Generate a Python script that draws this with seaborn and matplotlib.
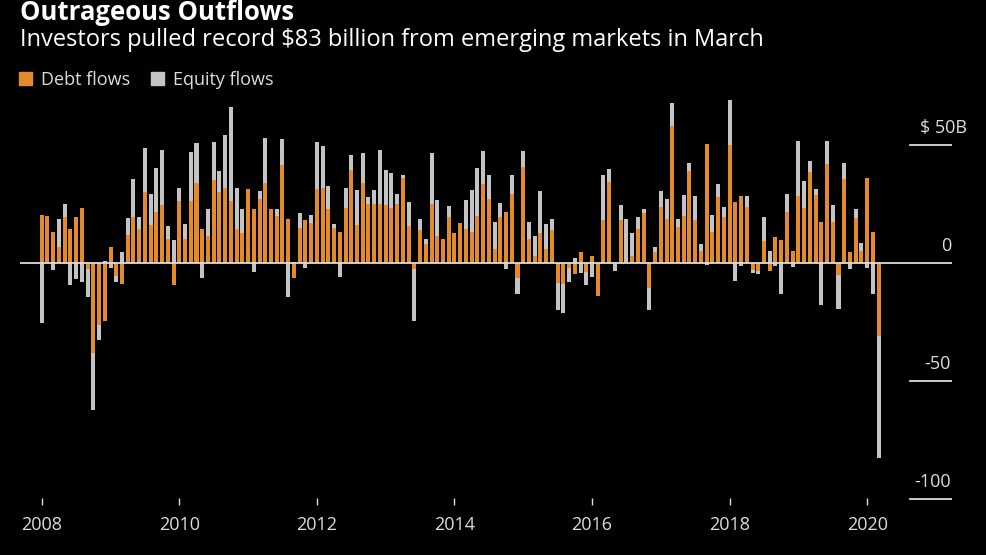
import matplotlib
matplotlib.use("Agg")
from matplotlib import pyplot as plt
from matplotlib.patches import Patch
import seaborn as sns
import pandas as pd
import numpy as np

# monthly flows, Jan 2008 .. Mar 2020, $ billions
debt = [20.3, 19.8, 13.3, 6.9, 19.6, 14.3, 19.4, 23.2, -2.5, -37.9, -26.3, -24.6,
        6.9, -5.5, -8.8, 11.9, 19.4, 14.3, 30.2, 16.1, 21.8, 24.6, 10.2, -9.3,
        26.3, 10.2, 26.3, 34.0, 14.3, 11.6, 35.2, 30.2, 31.6, 26.3, 14.3, 12.6,
        31.2, 22.7, 27.3, 34.0, 22.7, 20.1, 41.5, 18.6, -6.5, 14.7, 18.2, 17.1,
        31.4, 31.9, 22.9, 15.0, 13.3, 23.4, 39.3, 16.1, 34.0, 25.1, 25.1, 25.1,
        24.6, 23.4, 25.1, 35.9, 15.7, -2.5, 13.8, 7.9, 25.1, 11.4, 10.2, 19.5,
        12.6, 17.1, 14.3, 13.3, 20.1, 33.5, 27.1, 5.9, 19.5, 21.5, 29.1, -6.2,
        40.7, 10.2, 2.8, 12.9, 5.9, 14.0, -8.6, -9.0, -2.0, -4.8, 4.5, -3.7,
        2.8, -13.8, 18.2, 34.2, 0.3, 18.2, 0.6, 3.0, 14.4, 21.0, -10.7, 4.8,
        23.9, 18.8, 58.0, 15.4, 20.1, 39.1, 18.2, 5.2, 50.3, 13.3, 28.1, 19.4,
        49.9, 26.0, 28.4, 23.9, -3.0, -3.2, 9.3, -3.2, 10.9, 9.7, 21.8, 5.2,
        28.4, 23.4, 38.4, 28.8, 17.5, 41.8, 17.5, -5.1, 35.6, 4.8, 18.9, 5.2,
        36.2, 13.1, -30.9]
equity = [-25.6, 0.0, -3.0, 11.7, 5.3, -9.3, -6.9, -8.2, -11.9, -24.2, -6.1, 1.0,
          -2.0, -2.7, 4.7, 7.3, 16.1, 5.4, 18.4, 13.3, 18.4, 23.3, 5.6, 9.6,
          5.4, 6.2, 20.6, 16.7, -6.5, 11.2, 16.1, 8.6, 22.5, 39.7, 17.4, 10.2,
          0.0, -3.7, 3.1, 19.1, 0.0, 2.8, 11.0, -14.4, 0.5, 6.4, -2.0, 3.2,
          19.9, 17.7, 9.9, 1.4, -6.1, 8.2, 6.4, 15.0, 12.7, 3.0, 5.9, 22.7,
          14.8, 14.8, 4.2, 1.4, 10.3, -21.9, 4.9, 2.3, 21.6, 15.1, 0.0, 4.8,
          0.0, 0.0, 12.3, 17.8, 20.1, 13.8, 10.2, 11.6, 5.9, -2.5, 8.2, -7.1,
          6.6, 7.3, 8.6, 17.6, 10.5, 4.7, -11.3, -12.0, -6.2, 2.0, -4.4, -5.6,
          -6.1, 0.0, 19.1, 5.5, -3.2, 6.6, 18.2, 9.6, 4.9, 1.7, -9.2, 2.1,
          6.6, 8.5, 9.6, 3.4, 8.8, 3.1, 10.0, 2.8, -0.8, 7.1, 5.2, 4.5,
          22.7, -7.6, -1.3, 4.5, -1.4, -1.6, 10.0, 5.2, -1.3, -13.3, 7.5, -1.6,
          23.4, 11.4, 4.9, 2.4, -17.9, 10.0, 7.3, -14.4, 6.6, -2.7, 3.8, 3.4,
          -2.1, -13.3, -51.8]
years = ["2008", "2010", "2012", "2014", "2016", "2018", "2020"]
y_ticks = [50, 0, -50, -100]
y_labels = ["$ 50B", "0", "-50", "-100"]

ORANGE = "#E38B2C"
GREY = "#C4C4C4"
TXT = "#DCDCDC"

df = pd.DataFrame({"month": np.arange(len(debt)), "debt": debt, "equity": equity})
# equity sits on top of debt when both point the same way, otherwise starts at zero
same = np.sign(df["debt"]) == np.sign(df["equity"])
df["equity_top"] = np.where(same, df["debt"] + df["equity"], df["equity"])

plt.rcParams["font.family"] = ["Open Sans", "DejaVu Sans"]

fig = plt.figure(figsize=(9.87, 5.55), dpi=100, facecolor="black")
ax = fig.add_axes([20 / 987, 1 - 505 / 555, 932 / 987, 405 / 555])
ax.set_facecolor("black")

sns.barplot(data=df, x="month", y="equity_top", color=GREY, saturation=1,
            width=0.7, linewidth=0, errorbar=None, ax=ax)
sns.barplot(data=df, x="month", y="debt", color=ORANGE, saturation=1,
            width=0.7, linewidth=0, errorbar=None, ax=ax)

ax.set_xlim(-3.79, 158.8)
ax.set_ylim(-102.5, 69.07)
for s in ax.spines.values():
    s.set_visible(False)
ax.set_xlabel("")
ax.set_ylabel("")

ax.set_xticks([24 * k for k in range(len(years))])
ax.set_xticklabels(years, fontsize=13, color=TXT)
ax.tick_params(axis="x", direction="in", length=5, width=1, color=TXT, pad=8)
ax.set_yticks([])

ax.axhline(0, color=TXT, lw=1.3, zorder=5)
for v, lab in zip(y_ticks, y_labels):
    if v != 0:
        ax.axhline(v, xmin=(910 - 20) / 932, xmax=1, color=TXT, lw=1.3)
    dx = 10.8 if lab.endswith("B") else -0.7
    ax.annotate(lab, xy=(1, v), xycoords=ax.get_yaxis_transform(),
                xytext=(dx, 8.6), textcoords="offset points",
                ha="right", va="baseline", fontsize=13, color=TXT)

fig.text(20 / 987, 1 - 20 / 555, "Outrageous Outflows", fontsize=18.5,
         fontweight="bold", color="white", va="baseline", ha="left")
fig.text(20 / 987, 1 - 46 / 555, "Investors pulled record $83 billion from emerging markets in March",
         fontsize=17, color="white", va="baseline", ha="left")

handles = [Patch(color=ORANGE, label="Debt flows"), Patch(color=GREY, label="Equity flows")]
fig.legend(handles=handles, loc="center left", bbox_to_anchor=(19 / 987, 1 - 80 / 555),
           ncol=2, frameon=False, fontsize=13, labelcolor=TXT, handlelength=0.7,
           handleheight=0.7, handletextpad=0.5, columnspacing=1.2, borderpad=0,
           borderaxespad=0)

fig.savefig("out.png", dpi=100, facecolor="black")
